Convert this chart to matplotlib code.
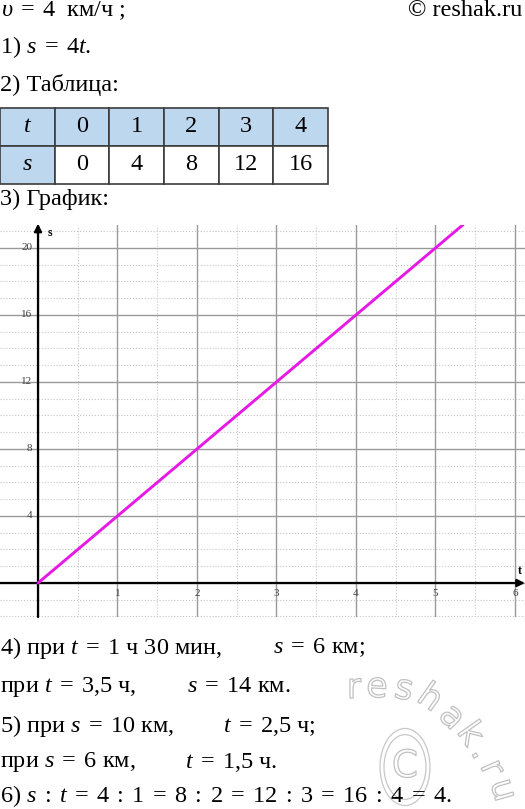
import matplotlib.pyplot as plt
import matplotlib.patheffects as pe
from matplotlib.patches import Rectangle, Circle
from matplotlib.ticker import MultipleLocator

# data
speed = 4
t_table = [0, 1, 2, 3, 4]
s_table = [0, 4, 8, 12, 16]
graph_t = [0, 5.35]
graph_s = [0, 21.4]
t_labels = [1, 2, 3, 4, 5, 6]
s_labels = [4, 8, 12, 16, 20]

W, H = 525, 809
plt.rcParams['font.family'] = ['Liberation Serif', 'DejaVu Serif']
plt.rcParams['mathtext.fontset'] = 'custom'
plt.rcParams['mathtext.rm'] = 'Liberation Serif'
plt.rcParams['mathtext.it'] = 'Liberation Serif:italic'

fig = plt.figure(figsize=(W / 100, H / 100), dpi=100)

FS = 17.5


def txt(x, y, s, **kw):
    kw.setdefault('fontsize', FS)
    kw.setdefault('va', 'center')
    fig.text(x / W, 1 - y / H, s, **kw)


# header text
txt(1, 11, r'$υ\;=\;4$  км/ч ;')
txt(522, 11, '© reshak.ru', ha='right')
txt(0, 47, r'1) $s\;=\;4t$.')
txt(0, 85, '2) Таблица:')
txt(0, 199, '3) График:')

# table
tab = fig.add_axes([0, 1 - 184 / H, 328 / W, 76 / H])
tab.set_xlim(0, 6)
tab.set_ylim(0, 2)
tab.axis('off')
blue = '#bdd7ee'
heads = ['$t$'] + [str(v) for v in t_table]
row2 = ['$s$'] + [str(v) for v in s_table]
for i in range(6):
    tab.add_patch(Rectangle((i, 1), 1, 1, facecolor=blue, edgecolor='#3c3c3c', lw=1.2, clip_on=False))
    tab.add_patch(Rectangle((i, 0), 1, 1, facecolor=blue if i == 0 else 'white',
                            edgecolor='#3c3c3c', lw=1.2, clip_on=False))
    tab.text(i + 0.5, 1.52, heads[i], ha='center', va='center', fontsize=FS)
    tab.text(i + 0.5, 0.52, row2[i], ha='center', va='center', fontsize=FS)

# graph
ax = fig.add_axes([0, (H - 617) / H, 1, (617 - 225) / H])
ax.set_xlim(-0.478, 6.126)
ax.set_ylim(-2.03, 21.37)
ax.xaxis.set_major_locator(MultipleLocator(1))
ax.xaxis.set_minor_locator(MultipleLocator(0.5))
ax.yaxis.set_major_locator(MultipleLocator(4))
ax.yaxis.set_minor_locator(MultipleLocator(1))
ax.grid(which='major', color='#9a9a9a', lw=1.0)
ax.grid(which='minor', color='#c4c4c4', lw=0.8, ls=':')
ax.tick_params(which='both', length=0, labelbottom=False, labelleft=False)
for sp in ax.spines.values():
    sp.set_visible(False)

ax.annotate('', xy=(6.125, 0), xytext=(-0.478, 0),
            arrowprops=dict(arrowstyle='-|>', lw=1.6, color='black', mutation_scale=11,
                            shrinkA=0, shrinkB=0), annotation_clip=False)
ax.annotate('', xy=(0, 21.45), xytext=(0, -2.03),
            arrowprops=dict(arrowstyle='-|>', lw=1.6, color='black', mutation_scale=11,
                            shrinkA=0, shrinkB=0), annotation_clip=False)

ax.plot(graph_t, graph_s, color='#e619e6', lw=2.1, solid_capstyle='round', zorder=3)

for v in t_labels:
    ax.text(v, -0.6, str(v), ha='center', va='center', fontsize=8, color='#404040')
for v in s_labels:
    ax.text(-0.07, v, str(v), ha='right', va='center', fontsize=8, color='#404040')
ax.text(0.15, 20.9, 's', fontsize=8.5, fontweight='bold', ha='center', va='center')
ax.text(6.06, 0.7, 't', fontsize=8.5, fontweight='bold', ha='center', va='center')

# answers
txt(0, 648, r'4) при $t\;=\;1$ ч 30 мин,')
txt(273, 648, r'$s\;=\;6$ км;')
txt(0, 687, r'при $t\;=\;3{,}5$ ч,')
txt(187, 687, r'$s\;=\;14$ км.')
txt(0, 726, r'5) при $s\;=\;10$ км,')
txt(223, 726, r'$t\;=\;2{,}5$ ч;')
txt(0, 762, r'при $s\;=\;6$ км,')
txt(185, 762, r'$t\;=\;1{,}5$ ч.')
txt(0, 796, r'6) $s\;:\;t\;=\;4\;:\;1\;=\;8\;:\;2\;=\;12\;:\;3\;=\;16\;:\;4\;=\;4$.')

# watermark
outline = [pe.Stroke(linewidth=0.9, foreground='#c0c0c0')]
wm = [('r', 354, 688, 0), ('e', 377, 687, -3), ('s', 404, 689, -12), ('h', 430, 698, -35),
      ('a', 452, 717, -45), ('k', 470, 734, -55), ('.', 482, 752, -62), ('r', 492, 768, -66),
      ('u', 503, 790, -74)]
for ch, x, y, r in wm:
    fig.text(x / W, 1 - y / H, ch, fontsize=25, family='DejaVu Sans', color='white',
             rotation=r, ha='center', va='center', path_effects=outline, zorder=0)
for rad in (25, 21):
    fig.patches.append(Circle((405 / W, 1 - 767 / H), rad / W, transform=fig.transFigure,
                              fill=False, edgecolor='#c8c8c8', lw=0.9, zorder=0))
fig.text(405 / W, 1 - 767 / H, 'C', fontsize=27, family='DejaVu Sans', color='white',
         ha='center', va='center', path_effects=outline, zorder=0)

fig.savefig('out.png', dpi=100)
